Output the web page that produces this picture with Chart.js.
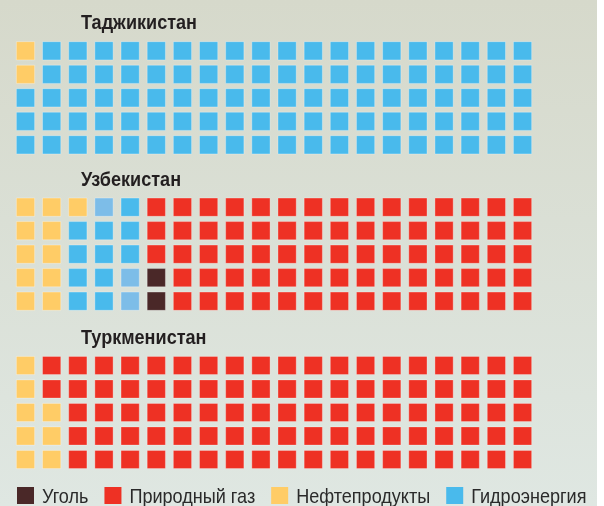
<!DOCTYPE html>
<html><head><meta charset="utf-8">
<script src="https://cdn.jsdelivr.net/npm/chart.js@4.4.1/dist/chart.umd.min.js"></script>
<style>
html,body{margin:0;padding:0;width:604px;height:506px;overflow:hidden;background:#fff;}
#bg{position:absolute;left:0;top:0;width:597px;height:506px;background:linear-gradient(to bottom,#d6d9cb,#dfe7e2);}
.wrap{position:absolute;left:0;width:640px;}
</style></head><body>
<div id="bg"></div>
<div class="wrap" style="top:0;height:160px"><canvas id="c1"></canvas></div>
<div class="wrap" style="top:160px;height:160px"><canvas id="c2"></canvas></div>
<div class="wrap" style="top:320px;height:186px"><canvas id="c3"></canvas></div>
<script>
// ---- data ----
const categoryLabels = ['Уголь', 'Природный газ', 'Нефтепродукты', 'Гидроэнергия'];
const categoryCodes  = ['C', 'G', 'O', 'H'];
const categoryColors = ['#4a2828', '#ee3124', '#ffcc66', '#49baec'];
const otherLabel = 'Прочее';
const otherCode = 'L';
const otherColor = '#7dbde8';
const countries = ['Таджикистан', 'Узбекистан', 'Туркменистан'];
// each string = one column of the 20x5 grid, top to bottom
const tajikistanColumns = ['OOHHH','HHHHH','HHHHH','HHHHH','HHHHH','HHHHH','HHHHH','HHHHH','HHHHH','HHHHH',
                           'HHHHH','HHHHH','HHHHH','HHHHH','HHHHH','HHHHH','HHHHH','HHHHH','HHHHH','HHHHH'];
const uzbekistanColumns  = ['OOOOO','OOOOO','OHHHH','LHHHH','HHHLL','GGGCC','GGGGG','GGGGG','GGGGG','GGGGG',
                           'GGGGG','GGGGG','GGGGG','GGGGG','GGGGG','GGGGG','GGGGG','GGGGG','GGGGG','GGGGG'];
const turkmenistanColumns= ['OOOOO','GGOOO','GGGGG','GGGGG','GGGGG','GGGGG','GGGGG','GGGGG','GGGGG','GGGGG',
                           'GGGGG','GGGGG','GGGGG','GGGGG','GGGGG','GGGGG','GGGGG','GGGGG','GGGGG','GGGGG'];

// ---- build ----
const allCodes = categoryCodes.concat([otherCode]);
const allLabels = categoryLabels.concat([otherLabel]);
const allColors = categoryColors.concat([otherColor]);

function buildDatasets(columns){
  return allCodes.map((code, k) => {
    const pts = [];
    columns.forEach((col, c) => {
      for (let r = 0; r < col.length; r++) if (col[r] === code) pts.push({x: c, y: r});
    });
    return {
      label: allLabels[k], data: pts,
      backgroundColor: allColors[k],
      borderColor: 'rgba(255,255,255,0.3)',
      borderWidth: 1,
      pointStyle: 'rect', pointRadius: 12.9, pointHoverRadius: 12.9,
      showLine: false
    };
  });
}

const xPitch = 26.16;           // px per column
const padLeft = 4;
const firstColCenter = 25.5;    // page px
const xMin = -(firstColCenter - padLeft) / xPitch;
const xMax = xMin + (640 - padLeft) / xPitch;
const NARROW = 0.86;

const gridTitle = {
  id: 'gridTitle',
  afterDraw(chart, args, opts){
    const ctx = chart.ctx;
    ctx.save();
    ctx.font = 'bold 21px "Liberation Sans", Arial, sans-serif';
    ctx.fillStyle = '#231f20';
    ctx.textBaseline = 'alphabetic';
    ctx.translate(chart.chartArea.left + 77, chart.chartArea.top - 9.7);
    ctx.scale(NARROW, 1);
    ctx.fillText(opts.text, 0, 0);
    ctx.restore();
  }
};

const narrowLegend = {
  id: 'narrowLegend',
  afterDraw(chart, args, opts){
    if (!opts.show) return;
    const ctx = chart.ctx;
    const a = chart.chartArea;
    ctx.save();
    ctx.font = '21px "Liberation Sans", Arial, sans-serif';
    ctx.textBaseline = 'alphabetic';
    let x = 17 - 0;  // page x of first box (canvas starts at page x 0)
    const boxTop = a.bottom + 15.75, box = 17, baseY = a.bottom + 31.6;
    categoryLabels.forEach((label, i) => {
      ctx.fillStyle = categoryColors[i];
      ctx.fillRect(x, boxTop, box, box);
      const tx = x + box + 8;
      const w = ctx.measureText(label).width * NARROW;
      ctx.save();
      ctx.fillStyle = '#2a2a2a';
      ctx.translate(tx, baseY);
      ctx.scale(NARROW, 1);
      ctx.fillText(label, 0, 0);
      ctx.restore();
      x = tx + w + 16;
    });
    ctx.restore();
  }
};

function makeChart(id, columns, title, padTop, padBottom, showLegend){
  return new Chart(document.getElementById(id), {
    type: 'scatter',
    data: {datasets: buildDatasets(columns)},
    plugins: [gridTitle, narrowLegend],
    options: {
      responsive: true, maintainAspectRatio: false, animation: false,
      layout: {autoPadding: false, padding: {left: padLeft, right: 0, top: padTop, bottom: padBottom}},
      scales: {
        x: {type: 'linear', display: false, min: xMin, max: xMax},
        y: {type: 'linear', display: false, min: -0.5, max: 4.5, reverse: true}
      },
      plugins: {
        tooltip: {enabled: false},
        legend: {display: false},
        gridTitle: {text: title},
        narrowLegend: {show: showLegend}
      }
    }
  });
}

makeChart('c1', tajikistanColumns, countries[0], 39.05, 3.45, false);
makeChart('c2', uzbekistanColumns, countries[1], 35.45, 7.05, false);
makeChart('c3', turkmenistanColumns, countries[2], 33.75, 34.75, true);
</script>
</body></html>
